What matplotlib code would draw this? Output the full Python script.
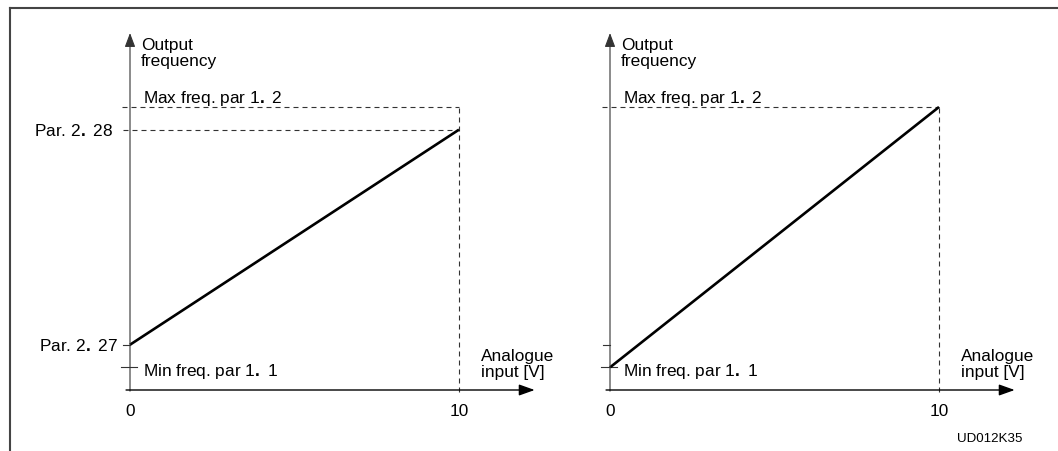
import matplotlib
matplotlib.use("Agg")
import matplotlib.pyplot as plt
from matplotlib.lines import Line2D

plt.rcParams['font.family'] = ['Liberation Sans', 'DejaVu Sans']
plt.rcParams['mathtext.fontset'] = 'custom'
plt.rcParams['mathtext.rm'] = 'Liberation Sans'
plt.rcParams['mathtext.bf'] = 'Liberation Sans:bold'

# ---- data ----
input_range = [0, 10]              # analogue input [V]
min_freq = 4                        # Min freq. par 1.1
par_227 = 8                         # Par. 2.27
par_228 = 46                        # Par. 2.28
max_freq = 50                       # Max freq. par 1.2
left_output = [par_227, par_228]    # scaled output, left diagram
right_output = [min_freq, max_freq] # unscaled output, right diagram
x_tick_values = [0, 10]
x_tick_labels = ["0", "10"]
label_p228 = r"Par. 2$\mathbf{.}$ 28"
label_p227 = r"Par. 2$\mathbf{.}$ 27"
label_max = r"Max freq. par 1$\mathbf{.}$ 2"
label_min = r"Min freq. par 1$\mathbf{.}$ 1"
label_y = "Output\nfrequency"
label_x = "Analogue\ninput [V]"
code_label = "UD012K35"

# ---- layout (pixels) ----
W, H = 1058, 452
fig = plt.figure(figsize=(W / 100, H / 100), dpi=100)
px_per_x = 32.9
px_per_y = 5.66
axis_y_px = 391

FS = 12.4

def make_panel(origin_px, yvals, p_label_levels, extra_ticks):
    ax = fig.add_axes([0, 0, 1, 1])
    ax.set_xlim(-origin_px / px_per_x, (W - origin_px) / px_per_x)
    ax.set_ylim(-(H - axis_y_px) / px_per_y, axis_y_px / px_per_y)
    ax.axis('off')
    ax.patch.set_alpha(0)
    x_end = 12.3
    y_top = (axis_y_px - 34) / px_per_y
    # axes with arrows
    ax.annotate('', xy=(0, y_top), xytext=(0, -0.2), xycoords='data',
                arrowprops=dict(arrowstyle='-|>,head_length=0.85,head_width=0.32',
                                mutation_scale=10, lw=0.8, color='#333333',
                                shrinkA=0, shrinkB=0))
    ax.annotate('', xy=(x_end, 0), xytext=(-0.12, 0), xycoords='data',
                arrowprops=dict(arrowstyle='-|>,head_length=0.95,head_width=0.34',
                                mutation_scale=10, lw=1.0, color='black',
                                shrinkA=0, shrinkB=0))
    dash = dict(color='#333333', lw=0.8, dashes=(4.5, 3.6))
    # max freq dashed level
    ax.plot([-0.24, input_range[1]], [max_freq, max_freq], **dash)
    ax.plot([input_range[1], input_range[1]], [-0.3, max_freq], **dash)
    for lvl in p_label_levels:
        ax.plot([-0.2, input_range[1]], [lvl, lvl], **dash)
    # ticks
    ax.plot([-0.27, 0.21], [min_freq, min_freq], color='#333333', lw=0.8)
    for t in extra_ticks:
        ax.plot([-0.21, 0], [t, t], color='#333333', lw=0.8)
    # main line
    ax.plot(input_range, yvals, color='black', lw=1.9, solid_capstyle='butt')
    # texts
    ax.text(0.33, (axis_y_px - 38) / px_per_y, label_y, ha='left', va='top',
            fontsize=FS, linespacing=1.12)
    ax.annotate(label_max, xy=(0, max_freq), xytext=(13, 5), textcoords='offset pixels',
                ha='left', va='baseline', fontsize=FS)
    ax.annotate(label_min, xy=(0, min_freq), xytext=(13, -3), textcoords='offset pixels',
                ha='left', va='center', fontsize=FS)
    ax.text(10.66, (axis_y_px - 349) / px_per_y, label_x, ha='left', va='top',
            fontsize=FS, linespacing=1.1)
    for v, s in zip(x_tick_values, x_tick_labels):
        ax.annotate(s, xy=(v, 0), xytext=(0, -21), textcoords='offset pixels',
                    ha='center', va='center', fontsize=FS)
    return ax

axL = make_panel(130, left_output, [par_228], [par_227])
axL.annotate(label_p228, xy=(0, par_228), xytext=(-17, 0), textcoords='offset pixels',
             ha='right', va='center', fontsize=FS)
axL.annotate(label_p227, xy=(0, par_227), xytext=(-12, 0), textcoords='offset pixels',
             ha='right', va='center', fontsize=FS)

axR = make_panel(610, right_output, [], [par_227])
axR.text(990 / W, 1 - 439 / H, code_label, transform=fig.transFigure,
         ha='center', va='center', fontsize=9.6)

# frame
fig.add_artist(Line2D([9.5 / W, 9.5 / W], [0, 1 - 8.5 / H], transform=fig.transFigure,
                      color='#444444', lw=1.5))
fig.add_artist(Line2D([9.5 / W, 1], [1 - 8.5 / H, 1 - 8.5 / H], transform=fig.transFigure,
                      color='#444444', lw=1.5))

fig.savefig("out.png", dpi=100)
